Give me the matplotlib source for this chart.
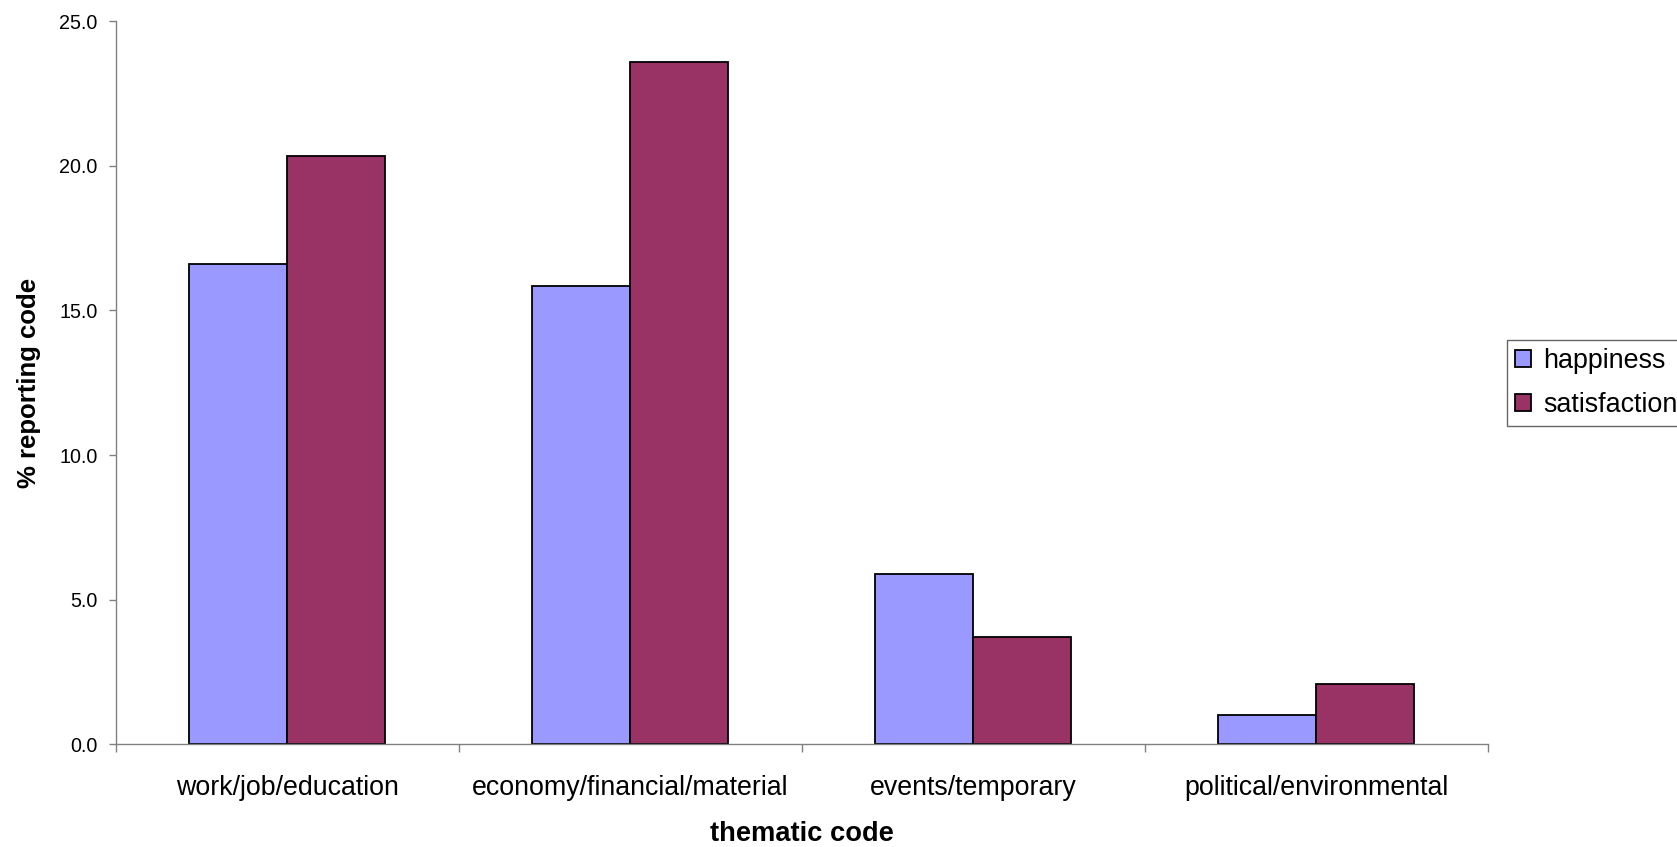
import matplotlib
matplotlib.use('Agg')
import matplotlib.pyplot as plt
import numpy as np

plt.rcParams['font.family'] = ['Liberation Sans', 'DejaVu Sans']

categories = ['work/job/education', 'economy/financial/material',
              'events/temporary', 'political/environmental']
happiness = [16.6, 15.85, 5.9, 1.0]
satisfaction = [20.35, 23.6, 3.7, 2.1]
y_ticks = [0, 5, 10, 15, 20, 25]

COLORS = {
    'happiness':    '#9999FF',
    'satisfaction': '#993366',
    'axis':         '#808080',
}

fig = plt.figure(figsize=(16.77, 8.47), dpi=100)
ax = fig.add_axes([0.0689, 0.1213, 0.8182, 0.8536])

x = np.arange(len(categories))
width = 1 / 3.5  # Excel-style gap width of 150%

ax.bar(x - width / 2, happiness, width, color=COLORS['happiness'],
       edgecolor='black', linewidth=1.3, label='happiness')
ax.bar(x + width / 2, satisfaction, width, color=COLORS['satisfaction'],
       edgecolor='black', linewidth=1.3, label='satisfaction')

ax.set_xlim(-0.5, len(categories) - 0.5)
ax.set_ylim(0, 25)
ax.set_yticks(y_ticks)
ax.set_yticklabels([f'{v:.1f}' for v in y_ticks], fontsize=14.2)
ax.tick_params(axis='y', length=5, width=1, color=COLORS['axis'], pad=8)

ax.set_xticks(x)
ax.set_xticklabels(categories, fontsize=19.3)
ax.tick_params(axis='x', which='major', length=0, pad=22)
ax.set_xticks(np.arange(-0.5, len(categories)), minor=True)
ax.tick_params(axis='x', which='minor', length=6, width=1, color=COLORS['axis'])

for side in ['top', 'right']:
    ax.spines[side].set_visible(False)
for side in ['left', 'bottom']:
    ax.spines[side].set_color(COLORS['axis'])
    ax.spines[side].set_linewidth(1)

ax.set_xlabel('thematic code', fontsize=19.6, fontweight='bold', va='top')
ax.xaxis.set_label_coords(0.5003, -0.1066)
ax.set_ylabel('% reporting code', fontsize=18.5, fontweight='bold')
ax.yaxis.set_label_coords(-0.0545, 0.5)

# legend sits right of the plot and runs off the figure edge
leg = fig.legend(loc='upper left', bbox_to_anchor=(1507 / 1677, 1 - 340 / 847),
                 fontsize=19.4, frameon=True, fancybox=False,
                 handlelength=0.6, handleheight=0.6, handletextpad=0.45,
                 borderpad=0.3, labelspacing=0.65, borderaxespad=0)
leg.get_frame().set_edgecolor('#404040')
leg.get_frame().set_linewidth(1)

fig.savefig('out.png', dpi=100)
